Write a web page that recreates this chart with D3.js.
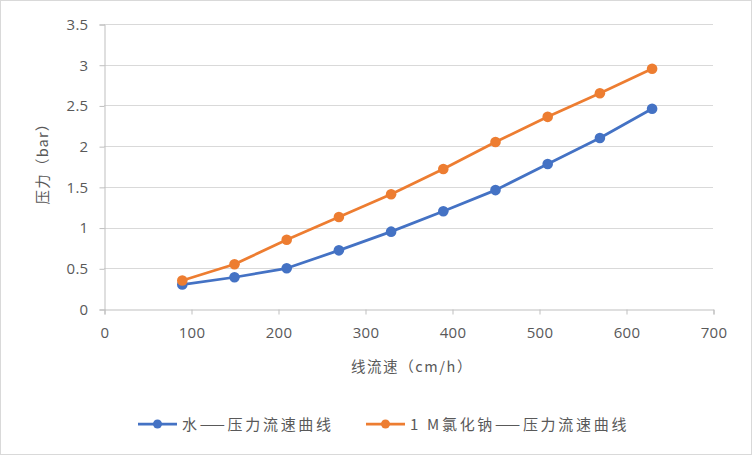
<!DOCTYPE html>
<html><head><meta charset="utf-8">
<script src="https://cdn.jsdelivr.net/npm/d3@7/dist/d3.min.js"></script>
<style>body{margin:0;background:#fff}svg{display:block}text{font-family:"Noto Sans CJK SC","Noto Sans",sans-serif;fill:#595959}</style>
</head><body>
<script>
const xValues = [90,150,210,270,330,390,450,510,570,630];
const waterValues = [0.30,0.39,0.50,0.72,0.95,1.20,1.46,1.78,2.10,2.46];
const naclValues = [0.35,0.55,0.85,1.13,1.41,1.72,2.05,2.36,2.65,2.95];
const seriesNames = ["水——压力流速曲线","1 M氯化钠——压力流速曲线"];
const seriesColors = ["#4472c4","#ed7d31"];
const xTicks = [0,100,200,300,400,500,600,700];
const yTicks = [0,0.5,1,1.5,2,2.5,3,3.5];
const xTitle = "线流速（cm/h）";
const yTitle = "压力（bar）";

const W=752,H=455;
const svg=d3.select("body").append("svg").attr("width",W).attr("height",H);
svg.append("rect").attr("x",0.5).attr("y",0.5).attr("width",W-1).attr("height",H-1).attr("fill","#fff").attr("stroke","#d9d9d9");
const x=d3.scaleLinear().domain([0,700]).range([104,713]);
const y=d3.scaleLinear().domain([0,3.5]).range([309,24]);

// gridlines
svg.append("g").selectAll("line").data(yTicks.filter(d=>d>0)).join("line")
 .attr("x1",x(0)).attr("x2",x(700)).attr("y1",d=>Math.round(y(d))+0.5).attr("y2",d=>Math.round(y(d))+0.5)
 .attr("stroke","#d9d9d9").attr("stroke-width",1);

const yAxis=svg.append("g").attr("transform",`translate(${x(0)+0.5},0.5)`)
 .call(d3.axisLeft(y).tickValues(yTicks).tickFormat(d=>String(d)).tickSize(5).tickPadding(11));
const xAxis=svg.append("g").attr("transform",`translate(0.5,${y(0)+0.5})`)
 .call(d3.axisBottom(x).tickValues(xTicks).tickFormat(d=>String(d)).tickSize(5).tickPadding(13));
[yAxis,xAxis].forEach(a=>{
 a.selectAll("path,line").attr("stroke","#bfbfbf").attr("stroke-width",1);
 a.selectAll("text").style("font-size","15px").style("letter-spacing","0.3px").attr("fill","#595959").style("font-family","'Open Sans','Noto Sans',sans-serif");
});

const line=d3.line().x(d=>x(d[0])).y(d=>y(d[1]));
const series=[waterValues,naclValues];
series.forEach((vals,i)=>{
 const pts=xValues.map((v,j)=>[v,vals[j]]);
 svg.append("path").datum(pts).attr("d",line).attr("fill","none").attr("stroke",seriesColors[i]).attr("stroke-width",2.75).attr("stroke-linejoin","round");
 svg.append("g").selectAll("circle").data(pts).join("circle")
  .attr("cx",d=>x(d[0])).attr("cy",d=>y(d[1])).attr("r",5.3).attr("fill",seriesColors[i]);
});

svg.append("text").attr("x",412).attr("y",372).attr("text-anchor","middle").style("font-size","14.5px").style("letter-spacing","1.6px").text(xTitle);
svg.append("text").attr("transform","translate(48,160) rotate(-90)").attr("text-anchor","middle").style("font-size","14.5px").style("letter-spacing","1.2px").text(yTitle);

// legend
const legX=[138,366];
seriesNames.forEach((n,i)=>{
 const g=svg.append("g").attr("transform",`translate(${legX[i]},424)`);
 g.append("line").attr("x1",0).attr("x2",39).attr("y1",0).attr("y2",0).attr("stroke",seriesColors[i]).attr("stroke-width",2.75);
 g.append("circle").attr("cx",19.5).attr("cy",0).attr("r",4.5).attr("fill",seriesColors[i]);
 g.append("text").attr("x",44).attr("y",5.5).style("font-size","15px").style("letter-spacing","2.7px").text(n);
});
</script>
</body></html>
